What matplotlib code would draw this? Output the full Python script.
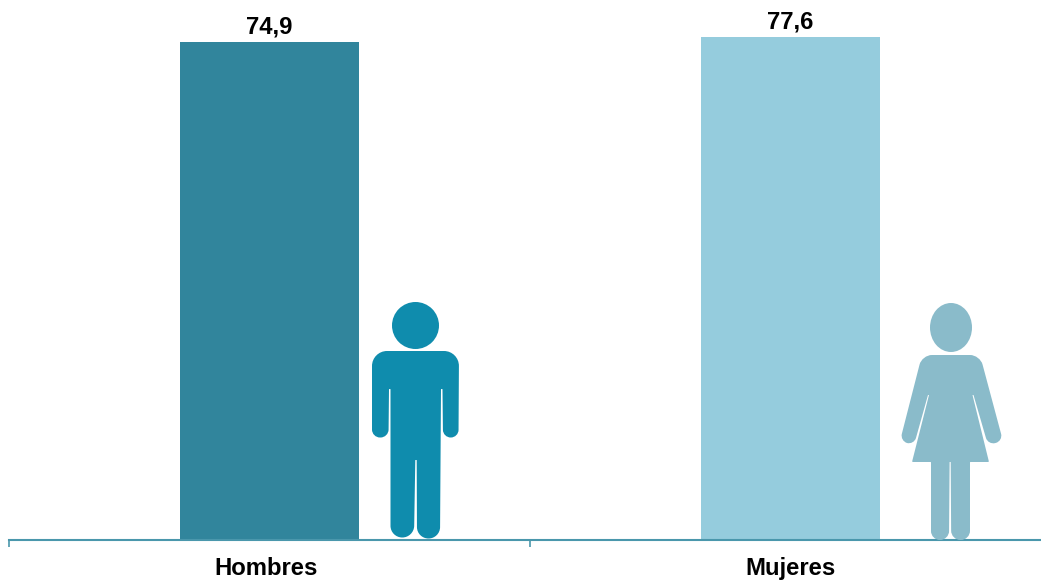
import matplotlib
matplotlib.use("Agg")
import matplotlib.pyplot as plt
import matplotlib.transforms as mtrans
import numpy as np
from matplotlib.path import Path
from matplotlib.patches import PathPatch, Ellipse

categories = ["Hombres", "Mujeres"]
values = [74.9, 77.6]
bar_colors = ["#31859C", "#95CCDD"]
value_labels = ["74,9", "77,6"]

W, H = 1041, 583
MAN = "#0F8CAD"
WOMAN = "#8ABBCA"
AXIS = "#4A97AC"

plt.rcParams["font.family"] = ["Liberation Sans", "DejaVu Sans"]
fig = plt.figure(figsize=(W / 100, H / 100), dpi=100, facecolor="white")

# The source axis is truncated: 2.7 units span 5 px and the baseline is far below zero
px_per_unit = 5 / 2.7
base = values[0] - 498 / px_per_unit
top = values[1] + 37 / px_per_unit

ax = fig.add_axes([9 / W, (H - 540) / H, 1042 / W, 540 / H])
ax.set_xlim(0, 2)
ax.set_ylim(base, top)
x = np.arange(len(categories)) + 0.5
ax.bar(x, np.array(values) - base, bottom=base, width=179 / 521, color=bar_colors)
for xi, v, s in zip(x, values, value_labels):
    ax.annotate(s, (xi, v), xytext=(0, 2.8), textcoords="offset points", ha="center",
                va="bottom", fontsize=17.2, fontweight="bold", color="black", annotation_clip=False)

for s in ["top", "left", "right"]:
    ax.spines[s].set_visible(False)
ax.spines["bottom"].set_color(AXIS)
ax.spines["bottom"].set_linewidth(1.5)
ax.set_yticks([])
ax.set_xticks(x)
ax.set_xticklabels(categories, fontsize=17.2, fontweight="bold", color="black")
ax.tick_params(axis="x", which="major", length=0, pad=12.4)
ax.set_xticks([0, 1, 2], minor=True)
ax.tick_params(axis="x", which="minor", length=5, width=1.2, color=AXIS)
lab = ax.get_xticklabels()[0]
lab.set_transform(lab.get_transform() + mtrans.ScaledTranslation(-3.5 / 100, 0, fig.dpi_scale_trans))


def rounded(points):
    """Closed path through (x, y, corner radius) vertices with rounded corners."""
    pts = [np.array(p[:2], float) for p in points]
    rad = [p[2] for p in points]
    n = len(pts)
    verts, codes = [], []
    k = 0.5523
    for i in range(n):
        p, a, b = pts[i], pts[i - 1], pts[(i + 1) % n]
        r = rad[i]
        ua = (a - p) / np.linalg.norm(a - p)
        ub = (b - p) / np.linalg.norm(b - p)
        start = p + ua * r
        end = p + ub * r
        verts.append(start)
        codes.append(Path.MOVETO if i == 0 else Path.LINETO)
        if r > 0:
            verts += [start + (p - start) * k, end + (p - end) * k, end]
            codes += [Path.CURVE4, Path.CURVE4, Path.CURVE4]
    verts.append(verts[0])
    codes.append(Path.CLOSEPOLY)
    return Path(verts, codes)


icons = fig.add_axes([0, 0, 1, 1], facecolor="none")
icons.set_xlim(0, W)
icons.set_ylim(H, 0)
icons.axis("off")

man_outline = [
    (372, 351, 15), (459, 351, 15), (458.5, 437.5, 7.7), (443, 437.5, 7.7), (442.5, 389, 0.5), (441, 389, 0.5),
    (440, 538.5, 11.4), (417, 538.5, 11.4), (416.7, 460, 0.3), (415.3, 460, 0.3), (414, 537.5, 11.7), (390.5, 537.5, 11.7),
    (390.5, 389, 0.5), (389, 389, 0.5), (388.5, 437.5, 8), (372, 437.5, 8),
]
icons.add_patch(PathPatch(rounded(man_outline), fc=MAN, ec="none"))
icons.add_patch(Ellipse((415.5, 325.5), 47, 47, fc=MAN, ec="none"))

woman_outline = [
    (922, 355, 10), (980, 355, 10), (1003, 441, 7.5), (988, 445, 7.5), (973.5, 395, 0.3), (972.5, 395, 0.3),
    (989, 462, 1), (970, 462, 0.5), (970, 540, 9.3), (951.2, 540, 9.3), (950.7, 462, 0.2), (949.6, 462, 0.2),
    (949, 540, 9), (931, 540, 9), (931, 462, 0.5), (912, 462, 1), (929, 395, 0.3), (928, 395, 0.3),
    (914, 445, 7.5), (900, 441, 7.5),
]
icons.add_patch(PathPatch(rounded(woman_outline), fc=WOMAN, ec="none"))
icons.add_patch(Ellipse((951, 327.5), 42, 49, fc=WOMAN, ec="none"))

fig.savefig("out.png", dpi=100)
